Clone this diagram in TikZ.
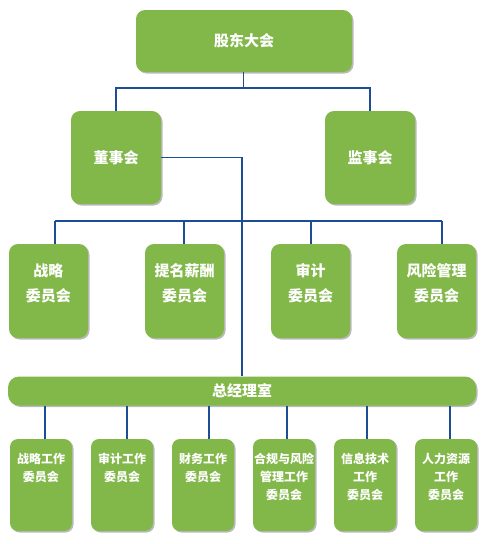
\documentclass[tikz,border=0pt]{standalone}
\usepackage{fontspec}
\setmainfont{Noto Sans CJK SC}
\usetikzlibrary{positioning,shadows}
\definecolor{boxgreen}{RGB}{130,183,74}
\definecolor{lineblue}{RGB}{28,78,150}
\newcommand{\ctext}[1]{\parbox[c][94pt][t]{79pt}{\centering\rule{0pt}{32pt}#1}}
\newcommand{\wtext}[1]{\parbox[c][92pt][t]{62pt}{\centering\rule{0pt}{24.5pt}#1}}
\begin{document}
\begin{tikzpicture}[x=1pt,y=-1pt,
    box/.style={fill=boxgreen,text=white,rounded corners=9pt,inner sep=0pt,
      drop shadow={shadow xshift=1.5pt,shadow yshift=-1.5pt,opacity=.45,fill=black!60}},
    big/.style={box,font=\bfseries\fontsize{15}{25}\selectfont},
    small/.style={box,rounded corners=8pt,font=\bfseries\fontsize{12}{18}\selectfont},
    line/.style={draw=lineblue,line width=1.2pt}]
   \useasboundingbox (0,0) rectangle (488,544);
   \node[big,minimum width=216pt,minimum height=62pt] (gd) at (244,41) {股东大会};
   \node[big,minimum width=90pt,minimum height=93pt] (ds) at (116,157.5) {董事会};
   \node[big,minimum width=90pt,minimum height=93pt] (js) at (370,157.5) {监事会};
   \node[big] (c_1) at (48.5,291) {\ctext{战略\\委员会}};
   \node[big] (c_2) at (184.5,291) {\ctext{提名薪酬\\委员会}};
   \node[big] (c_3) at (310.5,291) {\ctext{审计\\委员会}};
   \node[big] (c_4) at (436.5,291) {\ctext{风险管理\\委员会}};
   \node[big,rounded corners=11pt,minimum width=468pt,minimum height=29pt] (zj) at (242,391) {总经理室};
   \node[small] (w_1) at (41,485) {\wtext{战略工作\\委员会}};
   \node[small] (w_2) at (122,485) {\wtext{审计工作\\委员会}};
   \node[small] (w_3) at (203,485) {\wtext{财务工作\\委员会}};
   \node[small] (w_4) at (284,485) {\wtext{合规与风险\\管理工作\\委员会}};
   \node[small] (w_5) at (365,485) {\wtext{信息技术\\工作\\委员会}};
   \node[small] (w_6) at (446,485) {\wtext{人力资源\\工作\\委员会}};
   % upper tree
   \coordinate (j_0) at (243.5,88);
   \draw[line] (gd.south -| j_0) -- (j_0);
   \draw[line] (j_0) -| (ds.north);
   \draw[line] (j_0) -| (js.north);
   \draw[line] (ds.east) -| (zj.north);
   % committees
   \foreach \x [count=\i] in {55,184,311,442}
     \coordinate (k_\i) at (\x,221);
   \draw[line] (k_1) -- (k_4);
   \foreach \i in {1,...,4}
     \draw[line] (k_\i) -- (k_\i |- c_\i.north);
   % working committees
   \foreach \x [count=\i] in {45,127,209,287,367,450}
     \coordinate (m_\i) at (\x,0);
   \foreach \i in {1,...,6}
     \draw[line] (zj.south -| m_\i) -- (w_\i.north -| m_\i);
\end{tikzpicture}
\end{document}
